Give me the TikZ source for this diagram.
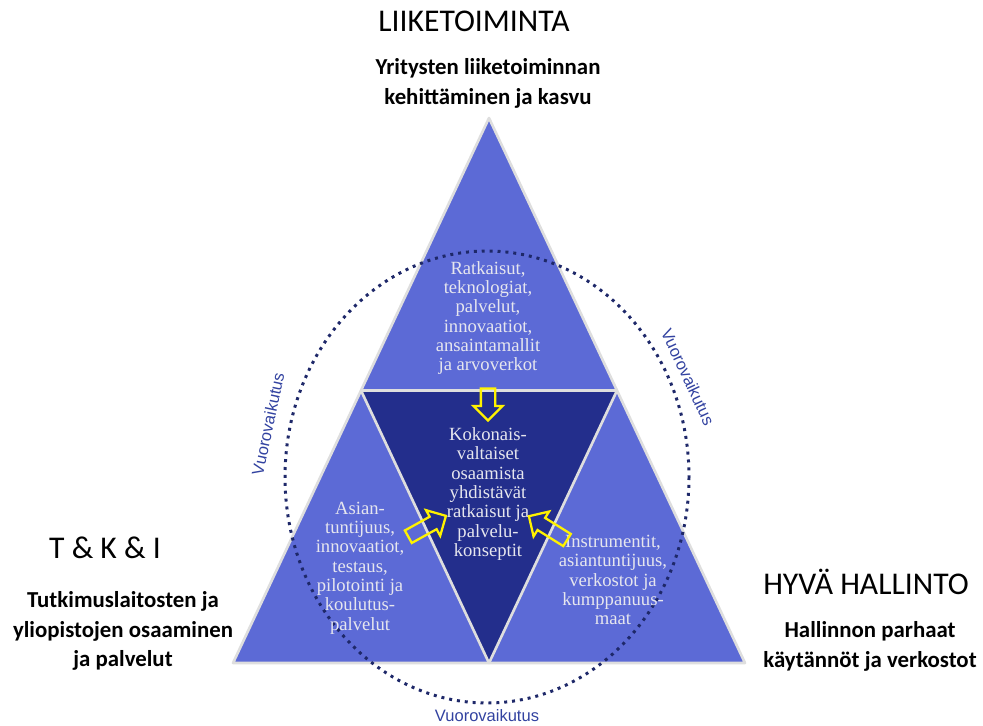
\documentclass[tikz,border=0pt]{standalone}
\usepackage{fontspec}
\setmainfont{Liberation Serif}
\newfontfamily\headfont{Carlito}
\newfontfamily\linkfont{Liberation Sans}
\usetikzlibrary{shapes.arrows}
\definecolor{lightblue}{RGB}{92,106,214}
\definecolor{darkblue}{RGB}{35,46,140}
\definecolor{dotblue}{RGB}{30,40,105}
\definecolor{edgegray}{RGB}{222,222,222}
\definecolor{labelblue}{RGB}{50,66,160}
\definecolor{textgray}{RGB}{230,230,238}

\begin{document}
\begin{tikzpicture}[x=0.02cm, y=-0.02cm,
	area/.style={draw=edgegray, line width=1.5pt, line join=round},
	inner/.style={text=textgray, align=center, font=\fontsize{10.6}{11}\selectfont},
	heading/.style={align=center, font=\headfont\fontsize{18}{21}\selectfont},
	subheading/.style={align=center, font=\headfont\bfseries\fontsize{13}{17}\selectfont},
	link/.style={text=labelblue, font=\linkfont\fontsize{9.4}{11}\selectfont},
	hollowarrow/.style={shape=single arrow, draw=yellow, line width=1.3pt, inner sep=0.12cm,
		single arrow head extend=0.15cm, text height=0pt, text depth=0pt, text width=0pt}]
	\useasboundingbox (0, 0) rectangle (983, 725);

	\coordinate (apex) at (489, 118);
	\coordinate (bl) at (233, 663);
	\coordinate (br) at (745, 663);
	\coordinate (ml) at (361, 390.5);
	\coordinate (mr) at (617, 390.5);
	\coordinate (mb) at (489, 663);

	\filldraw[area, fill=lightblue] (apex) -- (bl) -- (br) -- cycle;
	\filldraw[area, fill=darkblue] (ml) -- (mr) -- (mb) -- cycle;

	\draw[dotblue, line width=1.7pt, dash pattern=on 1.7pt off 2.8pt] (487, 477) ellipse [x radius=202, y radius=226];

	\node[heading] (business) at (474, 21) {LIIKETOIMINTA};
	\node[subheading] (businesstxt) at (488, 83) {Yritysten liiketoiminnan\\kehittäminen ja kasvu};
	\node[heading] (rdi) at (105, 548) {T \& K \& I};
	\node[subheading] (rditxt) at (123, 631) {Tutkimuslaitosten ja\\yliopistojen osaaminen\\ja palvelut};
	\node[heading] (gov) at (866, 582) {HYVÄ HALLINTO};
	\node[subheading] (govtxt) at (870, 646) {Hallinnon parhaat\\käytännöt ja verkostot};

	\node[inner] (solutions) at (488, 318) {Ratkaisut,\\teknologiat,\\palvelut,\\innovaatiot,\\ansaintamallit\\ja arvoverkot};
	\node[inner] (combined) at (488, 494) {Kokonais-\\valtaiset\\osaamista\\yhdistävät\\ratkaisut ja\\palvelu-\\konseptit};
	\node[inner] (expertise) at (360, 568) {Asian-\\tuntijuus,\\innovaatiot,\\testaus,\\pilotointi ja\\koulutus-\\palvelut};
	\node[inner] (instruments) at (613, 580) {Instrumentit,\\asiantuntijuus,\\verkostot ja\\kumppanuus-\\maat};

	\node[hollowarrow, minimum height=0.64cm, rotate=-90] (arrtop) at (488, 401) {};
	\node[hollowarrow, minimum height=0.86cm, rotate=29] (arrleft) at (424, 528) {};
	\node[hollowarrow, minimum height=0.9cm, rotate=148] (arrright) at (551, 530) {};

	\node[link, rotate=78] (linkleft) at (268, 424) {Vuorovaikutus};
	\node[link, rotate=-65] (linkright) at (688, 377) {Vuorovaikutus};
	\node[link] (linkbottom) at (487, 716) {Vuorovaikutus};
\end{tikzpicture}
\end{document}
